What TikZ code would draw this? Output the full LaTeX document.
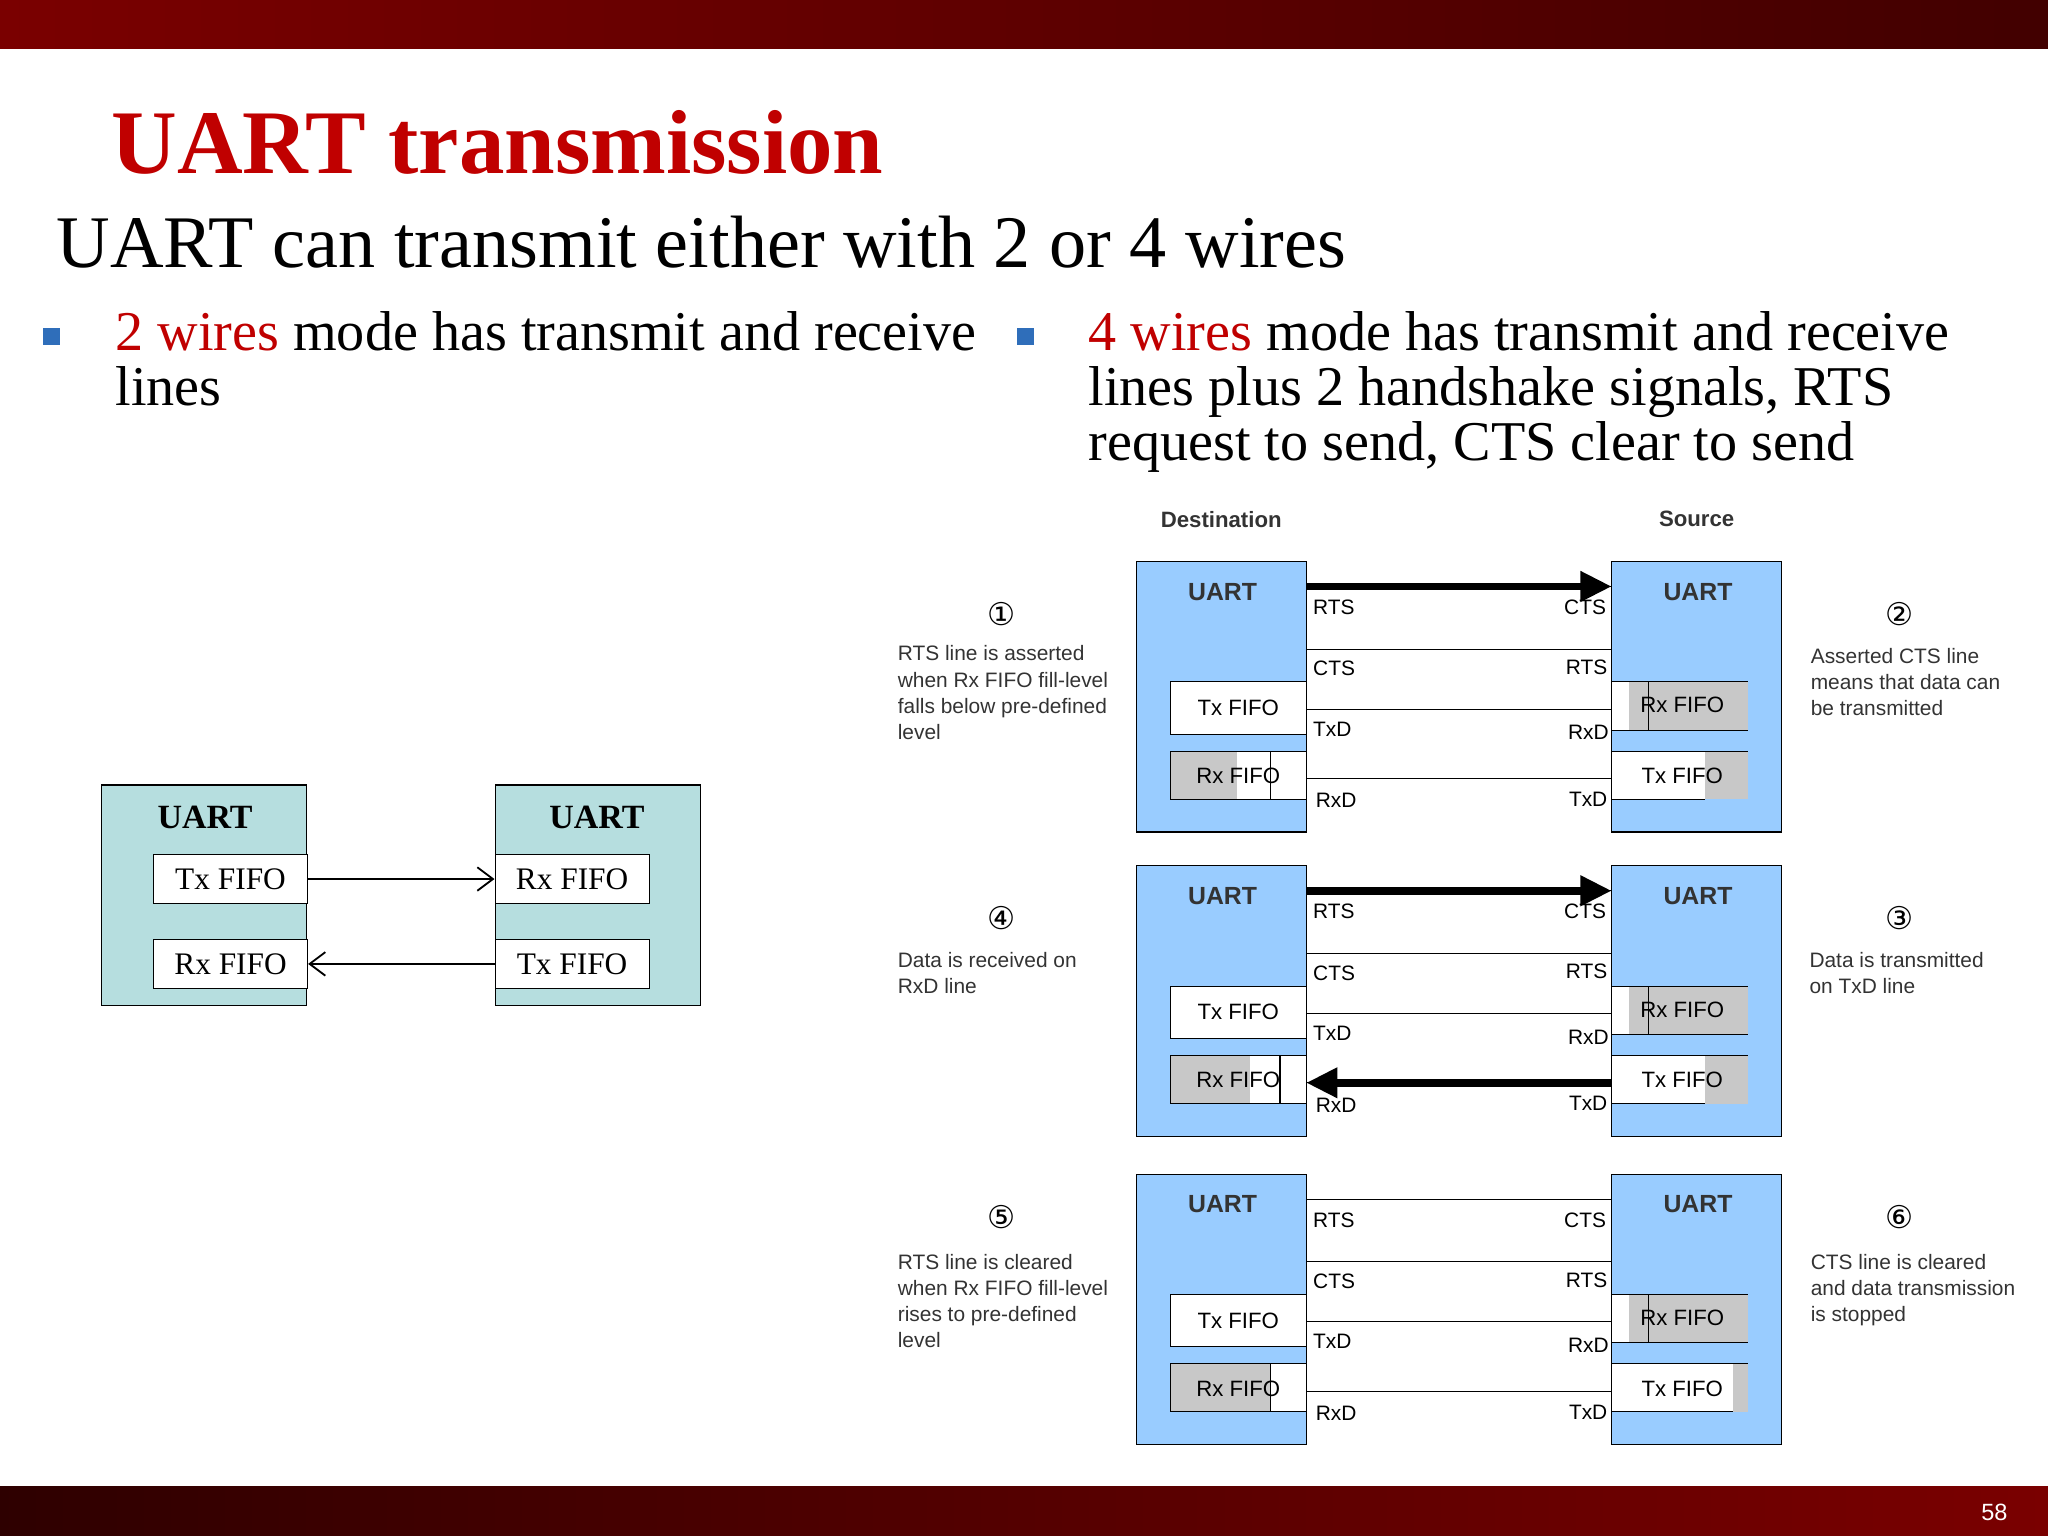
\documentclass[tikz,border=0pt]{standalone}
\usepackage{fontspec}
\setmainfont{Liberation Serif}
\newfontfamily\arial{Liberation Sans}
\newfontfamily\dejavu{DejaVu Sans}
\usetikzlibrary{arrows.meta}
\definecolor{barred}{HTML}{7A0000}
\definecolor{bardark}{HTML}{420000}
\definecolor{titlered}{HTML}{C00000}
\definecolor{bulletblue}{HTML}{2F6EBA}
\definecolor{teal}{HTML}{B6DEDF}
\definecolor{uartblue}{HTML}{99CCFF}
\definecolor{fifogray}{HTML}{C8C8C8}
\tikzset{
  teacherbox/.style={draw,fill=teal},
  fifobox/.style={draw,fill=white,minimum width=59pt,minimum height=19pt,inner sep=0pt,font=\fontsize{12}{12}\selectfont},
  lbl/.style={font=\arial\fontsize{8}{8}\selectfont,inner sep=0pt},
  desc/.style={font=\arial\fontsize{8}{10}\selectfont,align=left,anchor=north west,inner sep=0pt,text=black!80},
  num/.style={font=\dejavu\fontsize{12}{12}\selectfont,inner sep=0pt},
  bigarrow/.style={line width=3pt,-{Triangle[length=12pt,width=11pt]}},
}
\begin{document}
\begin{tikzpicture}[x=0.5pt,y=-0.5pt]
\useasboundingbox (0,0) rectangle (1568,1176);

% bars
\shade[left color=barred,right color=bardark] (0,0) rectangle (1568,37);
\shade[left color=bardark!70!black,right color=barred] (0,1138) rectangle (1568,1176);
\node[text=white,font=\arial\fontsize{9}{9}\selectfont] (pageno) at (1527,1158) {58};

% texts
\node[anchor=base west,inner sep=0pt,text=titlered,font=\bfseries\fontsize{34.8}{34.8}\selectfont] (title) at (85,133) {UART transmission};
\node[anchor=base west,inner sep=0pt,font=\fontsize{28.4}{28.4}\selectfont] (sub) at (43,205) {UART can transmit either with 2 or 4 wires};
\fill[bulletblue] (33,251) rectangle (46,264);
\fill[bulletblue] (779,251) rectangle (792,264);
\node[anchor=north west,inner sep=0pt,align=left,font=\fontsize{21.5}{21}\selectfont] (bl) at (88,238)
  {\textcolor{titlered}{2 wires} mode has transmit and receive\\lines};
\node[anchor=north west,inner sep=0pt,align=left,font=\fontsize{21.5}{21}\selectfont] (br) at (833,238)
  {\textcolor{titlered}{4 wires} mode has transmit and receive\\lines plus 2 handshake signals, RTS\\request to send, CTS clear to send};

% 2 wires
\draw[teacherbox] (78,601) rectangle (235,770);
\draw[teacherbox] (379,601) rectangle (536,770);
\node[font=\bfseries\fontsize{13}{13}\selectfont] (ua) at (157,626) {UART};
\node[font=\bfseries\fontsize{13}{13}\selectfont] (ub) at (457,626) {UART};
\node[fifobox] (atx) at (176.5,673) {Tx FIFO};
\node[fifobox] (arx) at (176.5,738) {Rx FIFO};
\node[fifobox] (brx) at (438,673) {Rx FIFO};
\node[fifobox] (btx) at (438,738) {Tx FIFO};
\draw[line width=0.7pt,-{Straight Barb[length=6pt,width=9pt]}] (atx.east) -- (brx.west);
\draw[line width=0.7pt,-{Straight Barb[length=6pt,width=9pt]}] (btx.west) -- (arx.east);

% 4 wires
\node[font=\arial\bfseries\fontsize{8.5}{8.5}\selectfont,text=black!80] (dest) at (935,398) {Destination};
\node[font=\arial\bfseries\fontsize{8.5}{8.5}\selectfont,text=black!80] (src) at (1299,397) {Source};
\foreach \p/\T/\lg/\lv/\rw in {1/430/947/973/1305, 2/663/957/980/1305, 3/899/973/973/1327}{
  \begin{scope}[shift={(0,\T)}]
    \draw[fill=uartblue] (870,0) rectangle (1000,207);
    \draw[fill=uartblue] (1234,0) rectangle (1364,207);
    \node[font=\arial\bfseries\fontsize{9.5}{9.5}\selectfont,text=black!80] (p\p-ul) at (936,23) {UART};
    \node[font=\arial\bfseries\fontsize{9.5}{9.5}\selectfont,text=black!80] (p\p-ur) at (1300,23) {UART};
    % fifos
    \draw[fill=white] (896,92) rectangle (1000,132);
    \node[lbl,font=\arial\fontsize{8.5}{8.5}\selectfont] (p\p-ltx) at (948,112) {Tx FIFO};
    \fill[white] (896,145) rectangle (1000,182);
    \fill[fifogray] (896,145) rectangle (\lg,182);
    \draw (896,182) -- (896,145) -- (1000,145) (896,182) -- (1000,182) (\lv,145) -- (\lv,182);
    \node[lbl,font=\arial\fontsize{8.5}{8.5}\selectfont] (p\p-lrx) at (948,164) {Rx FIFO};
    \fill[white] (1234,92) rectangle (1338,129);
    \fill[fifogray] (1247,92) rectangle (1338,129);
    \draw (1234,92) -- (1338,92) (1234,129) -- (1338,129) (1262,92) -- (1262,129);
    \node[lbl,font=\arial\fontsize{8.5}{8.5}\selectfont] (p\p-rrx) at (1288,110) {Rx FIFO};
    \fill[white] (1234,145) rectangle (1338,182);
    \fill[fifogray] (\rw,145) rectangle (1338,182);
    \draw (1234,145) -- (1338,145) (1234,182) -- (\rw,182);
    \node[lbl,font=\arial\fontsize{8.5}{8.5}\selectfont] (p\p-rtx) at (1288,164) {Tx FIFO};
    % wires
    \coordinate (p\p-a) at (1000,19);  \coordinate (p\p-b) at (1234,19);
    \coordinate (p\p-c) at (1000,67);  \coordinate (p\p-d) at (1234,67);
    \coordinate (p\p-e) at (1000,113); \coordinate (p\p-f) at (1234,113);
    \coordinate (p\p-g) at (1000,166); \coordinate (p\p-h) at (1234,166);
    \draw (p\p-a) -- (p\p-b) (p\p-c) -- (p\p-d) (p\p-e) -- (p\p-f) (p\p-g) -- (p\p-h);
    \node[lbl,anchor=west] at (1005,35) {RTS};
    \node[lbl,anchor=west] at (1005,82) {CTS};
    \node[lbl,anchor=west] at (1005,128) {TxD};
    \node[lbl,anchor=west] at (1007,183) {RxD};
    \node[lbl,anchor=east] at (1230,35) {CTS};
    \node[lbl,anchor=east] at (1231,81) {RTS};
    \node[lbl,anchor=east] at (1232,131) {RxD};
    \node[lbl,anchor=east] at (1231,182) {TxD};
  \end{scope}
}
\draw[bigarrow] (p1-a) -- (p1-b);
\draw[bigarrow] (p2-a) -- (p2-b);
\draw[bigarrow] (p2-h) -- (p2-g);

% notes
\node[num] (n1) at (767,470) {①};
\node[desc] (d1) at (687,494) {RTS line is asserted\\when Rx FIFO fill-level\\falls below pre-defined\\level};
\node[num] (n2) at (1454,470) {②};
\node[desc] (d2) at (1386,496) {Asserted CTS line\\means that data can\\be transmitted};
\node[num] (n4) at (767,703) {④};
\node[desc] (d4) at (687,729) {Data is received on\\RxD line};
\node[num] (n3) at (1454,703) {③};
\node[desc] (d3) at (1385,729) {Data is transmitted\\on TxD line};
\node[num] (n5) at (767,932) {⑤};
\node[desc] (d5) at (687,960) {RTS line is cleared\\when Rx FIFO fill-level\\rises to pre-defined\\level};
\node[num] (n6) at (1454,932) {⑥};
\node[desc] (d6) at (1386,960) {CTS line is cleared\\and data transmission\\is stopped};
\end{tikzpicture}
\end{document}
